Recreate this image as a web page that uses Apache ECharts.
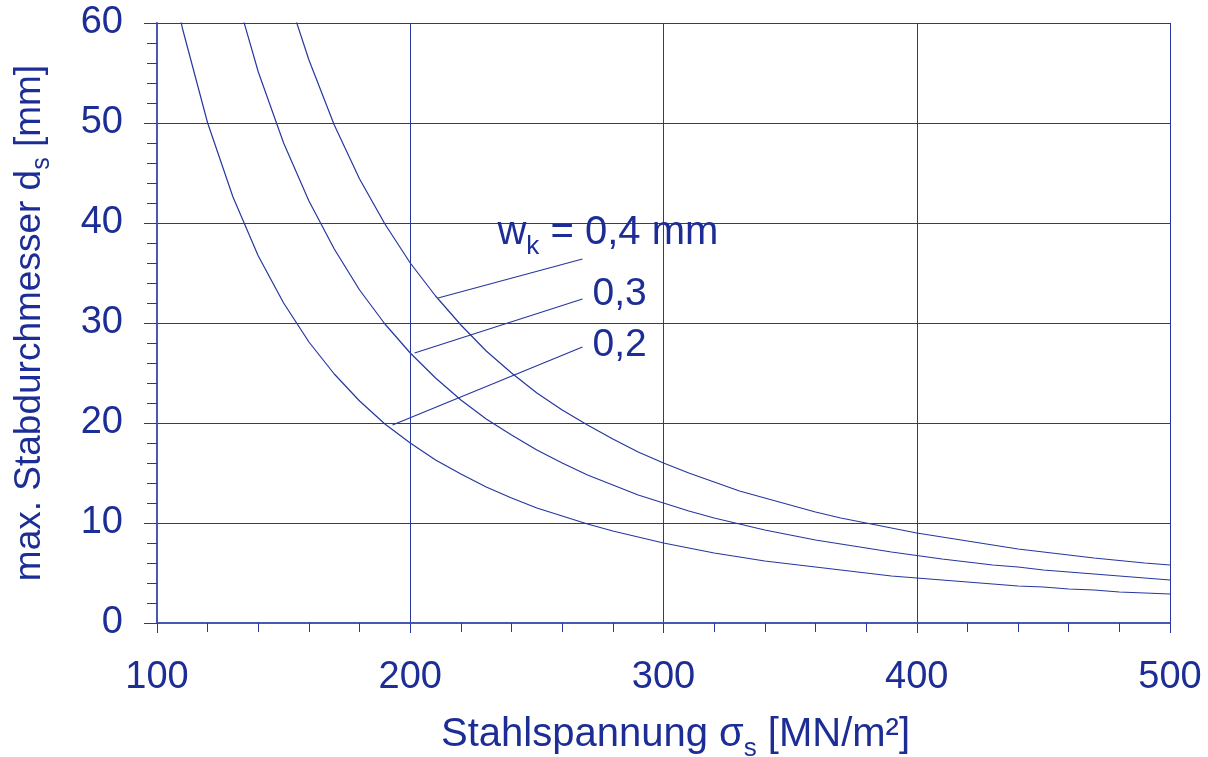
<!DOCTYPE html>
<html>
<head>
<meta charset="utf-8">
<script src="https://cdn.jsdelivr.net/npm/echarts@6/dist/echarts.min.js"></script>
<style>
html,body{margin:0;padding:0;background:#fff;}
#chart{width:1208px;height:757px;}
</style>
</head>
<body>
<div id="chart"></div>
<script>
// Stahlspannung sigma_s [MN/m²]
const sigma = [100,110,120,130,140,150,160,170,180,190,200,210,220,230,240,250,260,270,280,290,300,310,320,330,340,350,360,370,380,390,400,410,420,430,440,450,460,470,480,490,500];
// max. Stabdurchmesser [mm] for w_k = 0,2 / 0,3 / 0,4 mm
const wk02 = [72,59.5,50,42.6,36.7,32,28.1,24.9,22.2,19.9,18,16.3,14.9,13.6,12.5,11.5,10.7,9.9,9.2,8.6,8,7.5,7.0,6.6,6.2,5.9,5.6,5.3,5.0,4.7,4.5,4.3,4.1,3.9,3.7,3.6,3.4,3.3,3.1,3.0,2.9];
const wk03 = [null,null,75,63.9,55.1,48,42.2,37.4,33.3,29.9,27,24.5,22.3,20.4,18.8,17.3,16.0,14.8,13.8,12.8,12,11.2,10.5,9.9,9.3,8.8,8.3,7.9,7.5,7.1,6.75,6.4,6.1,5.8,5.6,5.3,5.1,4.9,4.7,4.5,4.3];
const wk04 = [null,null,null,null,73.5,64,56.3,49.8,44.4,39.9,36,32.7,29.8,27.2,25,23,21.3,19.8,18.4,17.1,16,15,14.1,13.2,12.5,11.8,11.1,10.5,10.0,9.5,9.0,8.6,8.2,7.8,7.4,7.1,6.8,6.5,6.25,6.0,5.8];
// leader lines from curve to label [sigma, d]
const leader04 = [[211,32.5],[268,36.4]];
const leader03 = [[201.7,27.0],[268,32.4]];
const leader02 = [[193,19.8],[268,27.6]];
// axis ticks
const xTicks = [100,200,300,400,500];
const yTicks = [0,10,20,30,40,50,60];

const C = '#1c2d95';
const L = '#2637a0';
const AX = '#4757b2';
const FONT = '"Liberation Sans", Arial, sans-serif';

function pairs(arr){ const out=[]; sigma.forEach((s,i)=>{ if(arr[i]!==null) out.push([s,arr[i]]); }); return out; }

function curve(name, arr){
  return {name:name,type:'line',data:pairs(arr),symbol:'none',showSymbol:false,
    lineStyle:{color:L,width:1.2},itemStyle:{color:L},animation:false,silent:true,clip:true,z:3};
}
function leader(name, pts, label){
  return {name:name,type:'line',data:pts,symbol:'none',showSymbol:false,
    lineStyle:{color:L,width:1.2},itemStyle:{color:L},animation:false,silent:true,z:4,
    endLabel:Object.assign({show:true,distance:10,fontFamily:FONT,color:C,fontSize:39}, label)};
}

const sub = {fontFamily:FONT,color:C,verticalAlign:'bottom'};

const chart = echarts.init(document.getElementById('chart'));
chart.setOption({
  backgroundColor:'#fff',
  animation:false,
  textStyle:{fontFamily:FONT,color:C},
  grid:{left:157,right:38,top:23,bottom:134,containLabel:false,outerBoundsMode:'none'},
  xAxis:{
    type:'value',min:xTicks[0],max:xTicks[xTicks.length-1],interval:100,
    name:'{n|Stahlspannung }{g|σ}{s|s}{n| [MN/m²]}',
    nameLocation:'middle',nameGap:92,
    nameTextStyle:{padding:[0,0,0,24],rich:{
      n:Object.assign({fontSize:40,padding:[0,0,7,0]},sub),
      g:Object.assign({fontSize:40,padding:[0,0,7,0]},sub),
      s:Object.assign({fontSize:26},sub)}},
    axisLine:{show:true,onZero:false,lineStyle:{color:AX,width:2}},
    axisTick:{show:true,inside:false,length:10,lineStyle:{color:L,width:1}},
    minorTick:{show:true,splitNumber:5,length:9,lineStyle:{color:L,width:1}},
    axisLabel:{fontSize:38,color:C,margin:36,fontFamily:FONT},
    splitLine:{show:true,lineStyle:{color:L,width:1}}
  },
  yAxis:{
    type:'value',min:yTicks[0],max:yTicks[yTicks.length-1],interval:10,
    name:'{n|max. Stabdurchmesser d}{s|s}{n| [mm]}',
    nameLocation:'middle',nameGap:102,
    nameTextStyle:{rich:{
      n:Object.assign({fontSize:37,padding:[0,0,7,0]},sub),
      s:Object.assign({fontSize:25},sub)}},
    axisLine:{show:true,onZero:false,lineStyle:{color:AX,width:2}},
    axisTick:{show:true,inside:false,length:13,lineStyle:{color:L,width:1}},
    minorTick:{show:true,splitNumber:5,length:10,lineStyle:{color:L,width:1}},
    axisLabel:{fontSize:38,color:C,margin:34,fontFamily:FONT},
    splitLine:{show:true,lineStyle:{color:L,width:1}}
  },
  series:[
    curve('w_k = 0,2',wk02),
    curve('w_k = 0,3',wk03),
    curve('w_k = 0,4',wk04),
    leader('L04',leader04,{offset:[-95,-23],formatter:'{n|w}{s|k}{n| = 0,4 mm}',rich:{
      n:Object.assign({fontSize:40,padding:[0,0,7,0]},sub),
      s:Object.assign({fontSize:26},sub)}}),
    leader('L03',leader03,{offset:[0,-5],formatter:'0,3'}),
    leader('L02',leader02,{offset:[0,-2],formatter:'0,2'})
  ]
});
</script>
</body>
</html>
